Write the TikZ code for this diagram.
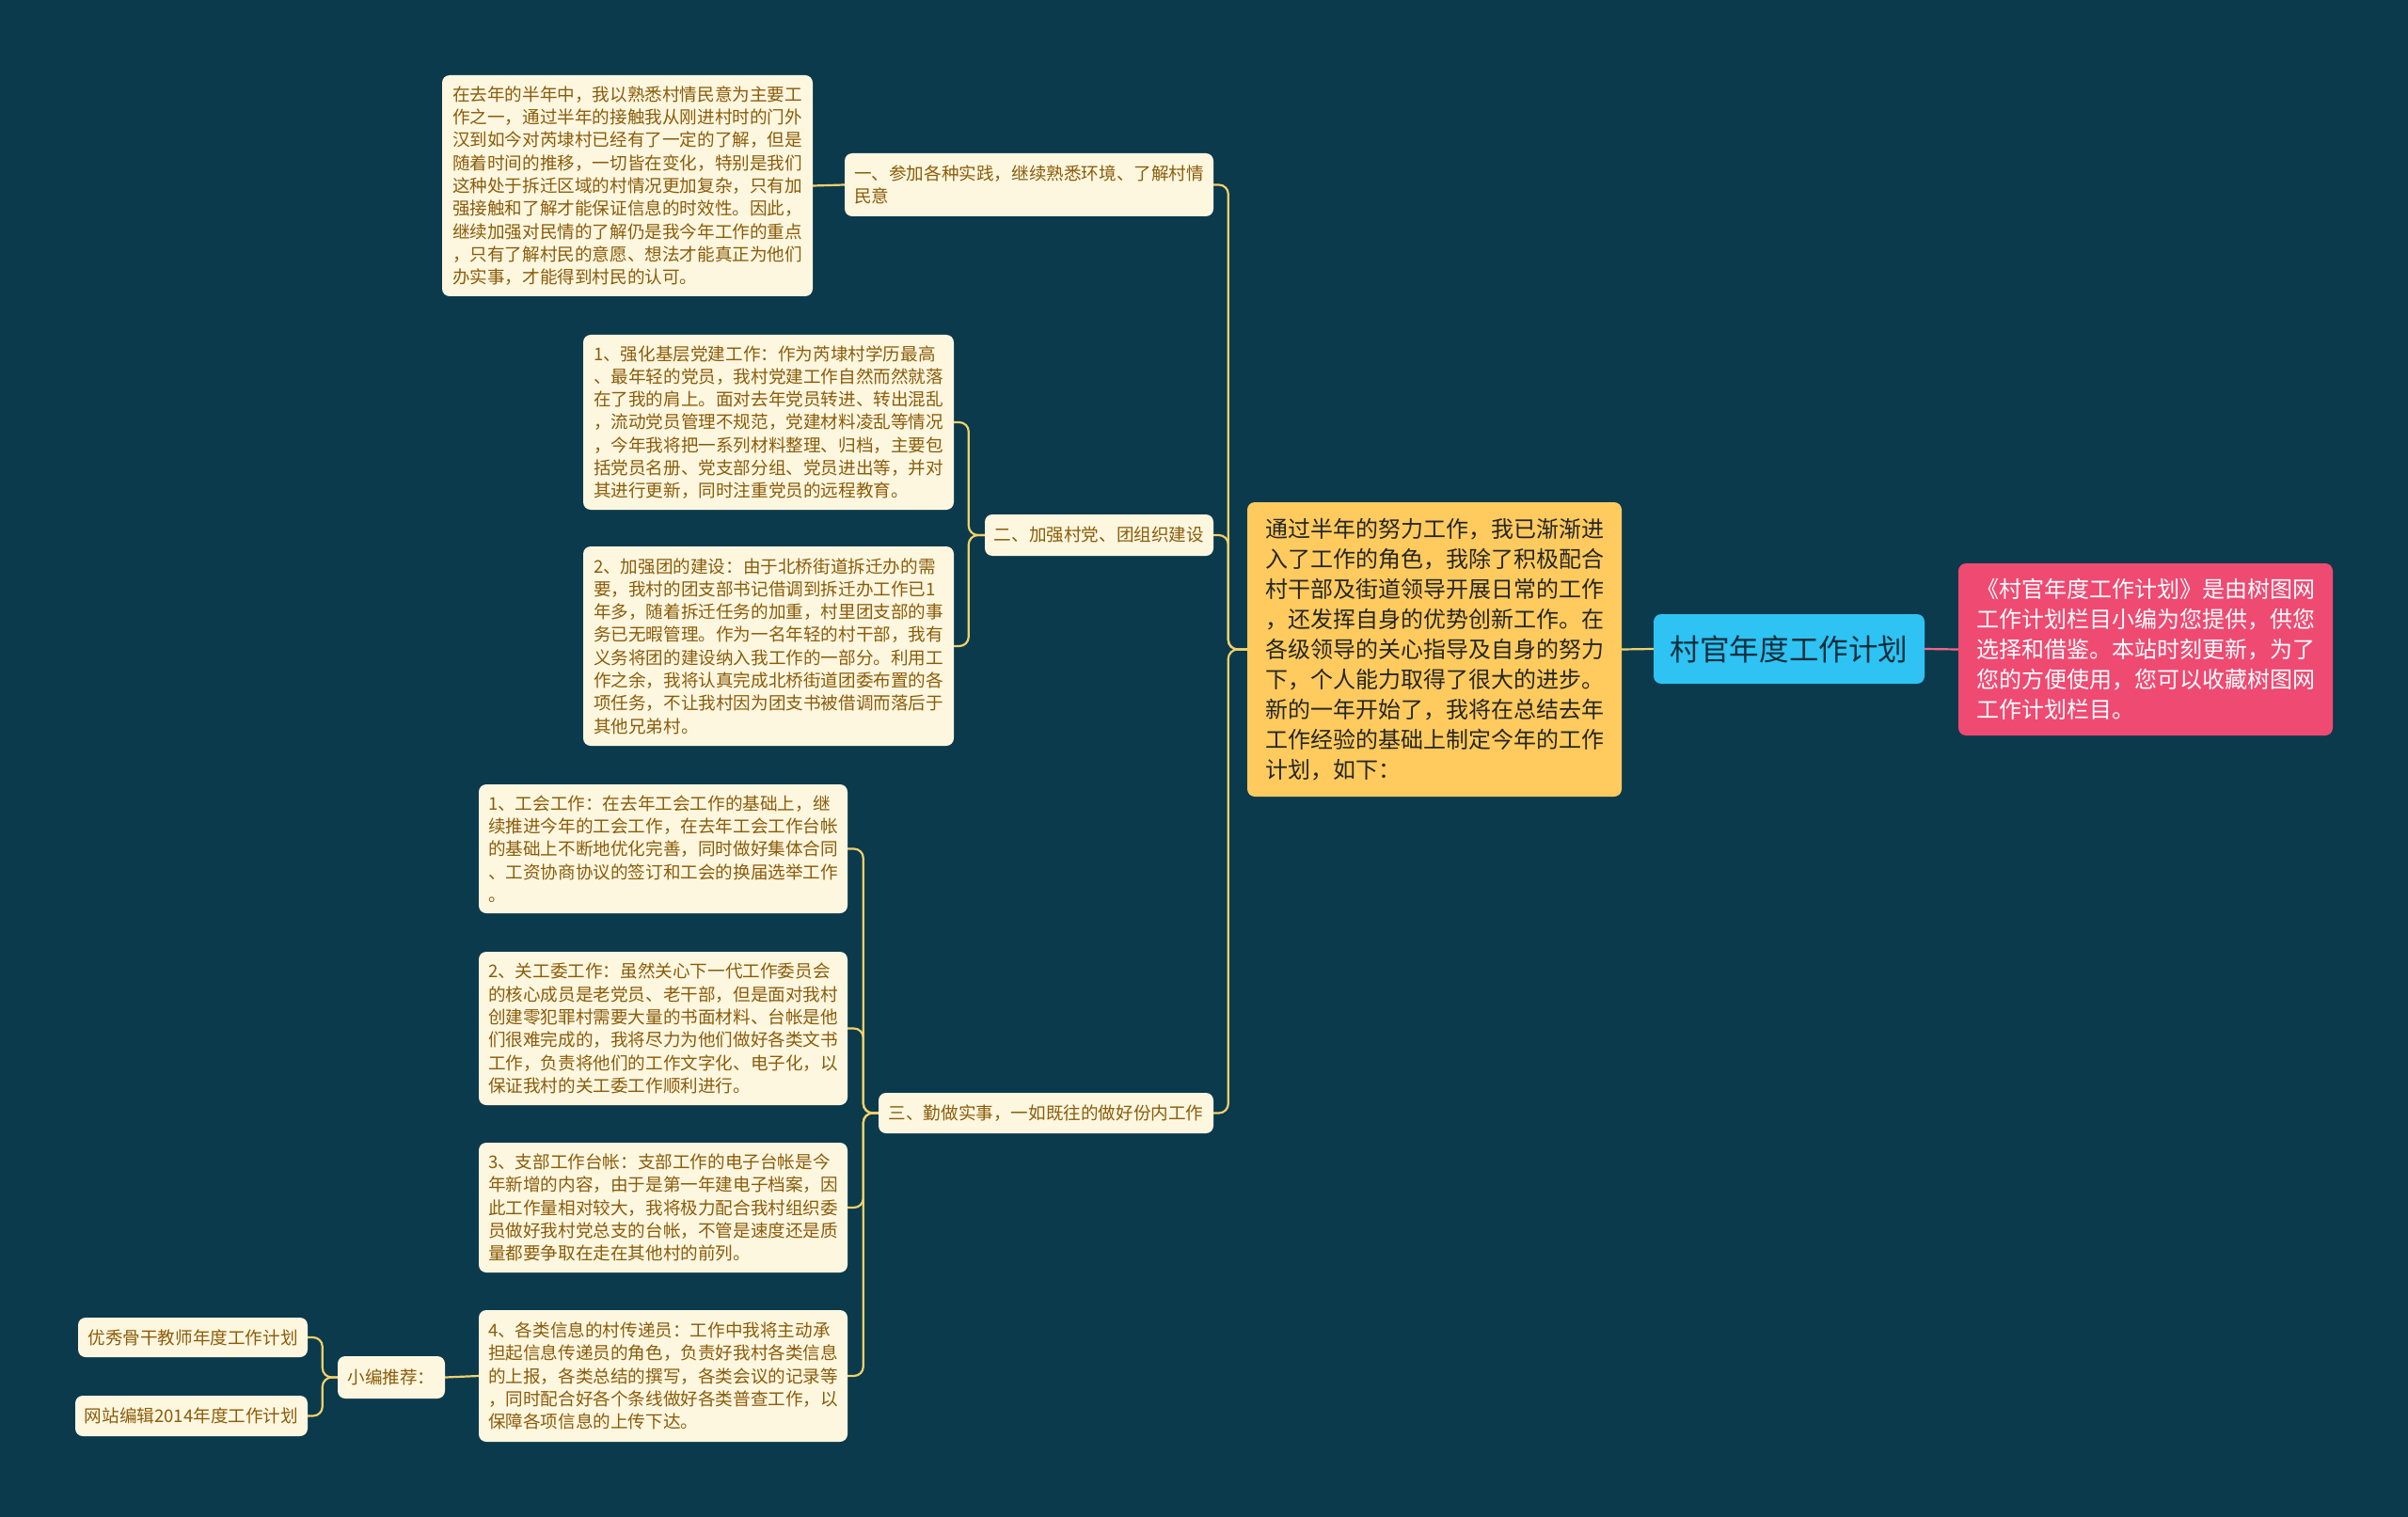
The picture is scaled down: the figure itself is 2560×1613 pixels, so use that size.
\documentclass[tikz,border=0pt]{standalone}
\usepackage{fontspec}
\setmainfont{Noto Sans CJK SC}
\usepackage{xcolor}
\definecolor{bgteal}{HTML}{0B3A4C}
\definecolor{cream}{HTML}{FEF7E0}
\definecolor{deepgold}{HTML}{8A5C0A}
\definecolor{linegold}{HTML}{F2D06B}
\definecolor{sunyellow}{HTML}{FFCB5E}
\definecolor{skyblue}{HTML}{2EC3F2}
\definecolor{rosered}{HTML}{EF4A72}
\usepackage{tikz}
\usetikzlibrary{calc, positioning}

\begin{document}
\begin{tikzpicture}[x=1pt, y=-1pt,
  leaf/.style={fill=cream, rounded corners=8pt, align=left, text=deepgold, font=\fontsize{18.6}{24.3}\selectfont, inner xsep=9pt, inner ysep=6pt, minimum width=#1},
  leaf/.default=394pt,
  tag/.style={fill=cream, rounded corners=8pt, align=left, text=deepgold, font=\fontsize{18.6}{24.3}\selectfont, inner xsep=9pt, inner ysep=6pt},
  hub/.style={fill=sunyellow, rounded corners=8pt, align=left, text=black!85, font=\fontsize{24}{32}\selectfont, inner xsep=10pt, inner ysep=8pt, minimum width=398pt},
  rootbox/.style={fill=skyblue, rounded corners=8pt, text=bgteal!80!black, font=\fontsize{31.6}{36}\selectfont, minimum width=288pt, minimum height=74pt},
  notebox/.style={fill=rosered, rounded corners=8pt, align=left, text=white, font=\fontsize{24}{32}\selectfont, inner xsep=10pt, inner ysep=8pt, minimum width=398pt},
  link/.style={draw=linegold, line width=2.2pt, rounded corners=10pt}
]
\useasboundingbox[fill=bgteal] (0,0) rectangle (2560,1613);

% root and note
\node[rootbox] (root) at (1902,690) {村官年度工作计划};
\node[notebox, minimum height=183pt] (note) at (2281,690.5) {《村官年度工作计划》是由树图网\\工作计划栏目小编为您提供，供您\\选择和借鉴。本站时刻更新，为了\\您的方便使用，您可以收藏树图网\\工作计划栏目。};
\node[hub, minimum height=313pt] (intro) at (1525,690.5) {通过半年的努力工作，我已渐渐进\\入了工作的角色，我除了积极配合\\村干部及街道领导开展日常的工作\\，还发挥自身的优势创新工作。在\\各级领导的关心指导及自身的努力\\下，个人能力取得了很大的进步。\\新的一年开始了，我将在总结去年\\工作经验的基础上制定今年的工作\\计划，如下：};

% part one
\node[tag, minimum width=392pt, minimum height=67pt] (partone) at (1094,196.5) {一、参加各种实践，继续熟悉环境、了解村情\\民意};
\node[leaf, minimum height=235pt] (know) at (667,197.5) {在去年的半年中，我以熟悉村情民意为主要工\\作之一，通过半年的接触我从刚进村时的门外\\汉到如今对芮埭村已经有了一定的了解，但是\\随着时间的推移，一切皆在变化，特别是我们\\这种处于拆迁区域的村情况更加复杂，只有加\\强接触和了解才能保证信息的时效性。因此，\\继续加强对民情的了解仍是我今年工作的重点\\，只有了解村民的意愿、想法才能真正为他们\\办实事，才能得到村民的认可。};

% part two
\node[tag, minimum width=243pt, minimum height=44pt] (parttwo) at (1168.5,569) {二、加强村党、团组织建设};
\node[leaf, minimum height=186pt] (party) at (817,449) {1、强化基层党建工作：作为芮埭村学历最高\\、最年轻的党员，我村党建工作自然而然就落\\在了我的肩上。面对去年党员转进、转出混乱\\，流动党员管理不规范，党建材料凌乱等情况\\，今年我将把一系列材料整理、归档，主要包\\括党员名册、党支部分组、党员进出等，并对\\其进行更新，同时注重党员的远程教育。};
\node[leaf, minimum height=212pt] (league) at (817,687) {2、加强团的建设：由于北桥街道拆迁办的需\\要，我村的团支部书记借调到拆迁办工作已1\\年多，随着拆迁任务的加重，村里团支部的事\\务已无暇管理。作为一名年轻的村干部，我有\\义务将团的建设纳入我工作的一部分。利用工\\作之余，我将认真完成北桥街道团委布置的各\\项任务，不让我村因为团支书被借调而落后于\\其他兄弟村。};

% part three
\node[tag, minimum width=356pt, minimum height=43pt] (partthree) at (1112,1183.5) {三、勤做实事，一如既往的做好份内工作};
\node[leaf=392pt, minimum height=137pt] (union) at (705,902.5) {1、工会工作：在去年工会工作的基础上，继\\续推进今年的工会工作，在去年工会工作台帐\\的基础上不断地优化完善，同时做好集体合同\\、工资协商协议的签订和工会的换届选举工作\\。};
\node[leaf=392pt, minimum height=163pt] (elder) at (705,1093.5) {2、关工委工作：虽然关心下一代工作委员会\\的核心成员是老党员、老干部，但是面对我村\\创建零犯罪村需要大量的书面材料、台帐是他\\们很难完成的，我将尽力为他们做好各类文书\\工作，负责将他们的工作文字化、电子化，以\\保证我村的关工委工作顺利进行。};
\node[leaf=392pt, minimum height=138pt] (ledger) at (705,1284) {3、支部工作台帐：支部工作的电子台帐是今\\年新增的内容，由于是第一年建电子档案，因\\此工作量相对较大，我将极力配合我村组织委\\员做好我村党总支的台帐，不管是速度还是质\\量都要争取在走在其他村的前列。};
\node[leaf=392pt, minimum height=140pt] (courier) at (705,1463) {4、各类信息的村传递员：工作中我将主动承\\担起信息传递员的角色，负责好我村各类信息\\的上报，各类总结的撰写，各类会议的记录等\\，同时配合好各个条线做好各类普查工作，以\\保障各项信息的上传下达。};

% recommendations
\node[tag, minimum width=114pt, minimum height=45pt] (pick) at (416,1464.5) {小编推荐：};
\node[tag, minimum width=244pt, minimum height=42pt] (pickone) at (205,1422) {优秀骨干教师年度工作计划};
\node[tag, minimum width=247pt, minimum height=43pt] (picktwo) at (203.5,1505.5) {网站编辑2014年度工作计划};

% connectors
\draw[link, draw=rosered!85!white] (root.east) -- (note.west);
\draw[link] (root.west) -- (intro.east);
\draw[link] (intro.west) -- ++(-20,0) |- (partone.east);
\draw[link] (intro.west) -- ++(-20,0) |- (parttwo.east);
\draw[link] (intro.west) -- ++(-20,0) |- (partthree.east);
\draw[link] (partone.west) -- (know.east);
\draw[link] (parttwo.west) -- ++(-17,0) |- (party.east);
\draw[link] (parttwo.west) -- ++(-17,0) |- (league.east);
\draw[link] (partthree.west) -- ++(-16,0) |- (union.east);
\draw[link] (partthree.west) -- ++(-16,0) |- (elder.east);
\draw[link] (partthree.west) -- ++(-16,0) |- (ledger.east);
\draw[link] (partthree.west) -- ++(-16,0) |- (courier.east);
\draw[link] (courier.west) -- (pick.east);
\draw[link] (pick.west) -- ++(-16,0) |- (pickone.east);
\draw[link] (pick.west) -- ++(-16,0) |- (picktwo.east);
\end{tikzpicture}
\end{document}
